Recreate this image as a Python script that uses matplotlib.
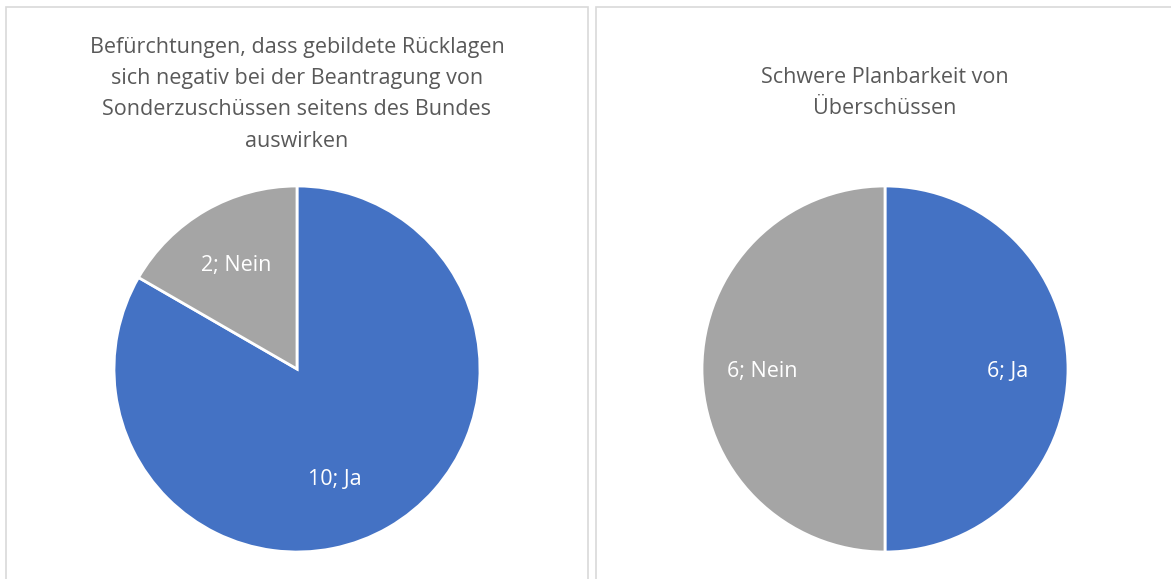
import matplotlib.pyplot as plt
from matplotlib.patches import Rectangle

plt.rcParams['font.family'] = ['Open Sans', 'DejaVu Sans']

# Daten der beiden Kreisdiagramme
kategorien = ['Ja', 'Nein']
werte_ruecklagen = [10, 2]
werte_planbarkeit = [6, 6]
titel_ruecklagen = ('Befürchtungen, dass gebildete Rücklagen\n'
                    'sich negativ bei der Beantragung von\n'
                    'Sonderzuschüssen seitens des Bundes\n'
                    'auswirken')
titel_planbarkeit = 'Schwere Planbarkeit von\nÜberschüssen'

farben = ['#4472C4', '#A5A5A5']
W, H = 1171, 579

fig = plt.figure(figsize=(W / 100, H / 100), dpi=100)

# Rahmen der beiden Diagrammbereiche
for x0, x1 in [(6, 588), (596, 1180)]:
    fig.patches.append(Rectangle((x0 / W, -0.05), (x1 - x0) / W, (H - 7) / H + 0.05,
                                 transform=fig.transFigure, fill=False,
                                 edgecolor='#D9D9D9', linewidth=1.2))


def kreis(cx, werte, titel, titel_y):
    r = 183
    cy = 369
    ax = fig.add_axes([(cx - r) / W, (H - cy - r) / H, 2 * r / W, 2 * r / H])
    labels = ['%d; %s' % (v, k) for v, k in zip(werte, kategorien)]
    wedges, texts = ax.pie(werte, colors=farben, startangle=90, counterclock=False,
                           labels=labels, labeldistance=0.67,
                           wedgeprops=dict(edgecolor='white', linewidth=2),
                           textprops=dict(color='white', fontsize=15.5, ha='center',
                                          va='center_baseline'))
    ax.set_xlim(-1, 1)
    ax.set_ylim(-1, 1)
    ax.set_aspect('auto')
    fig.text(cx / W, 1 - titel_y / H, titel, ha='center', va='top', color='#595959',
             fontsize=15.5, linespacing=1.64)
    return texts


texte = kreis(297, werte_ruecklagen, titel_ruecklagen, 37)
# Beschriftung des großen Segments etwas näher an die Mitte rücken
x, y = texte[0].get_position()
texte[0].set_position((x * 0.62, y * 1.02))
kreis(885, werte_planbarkeit, titel_planbarkeit, 67)

fig.savefig('out.png', dpi=100, facecolor='white')
